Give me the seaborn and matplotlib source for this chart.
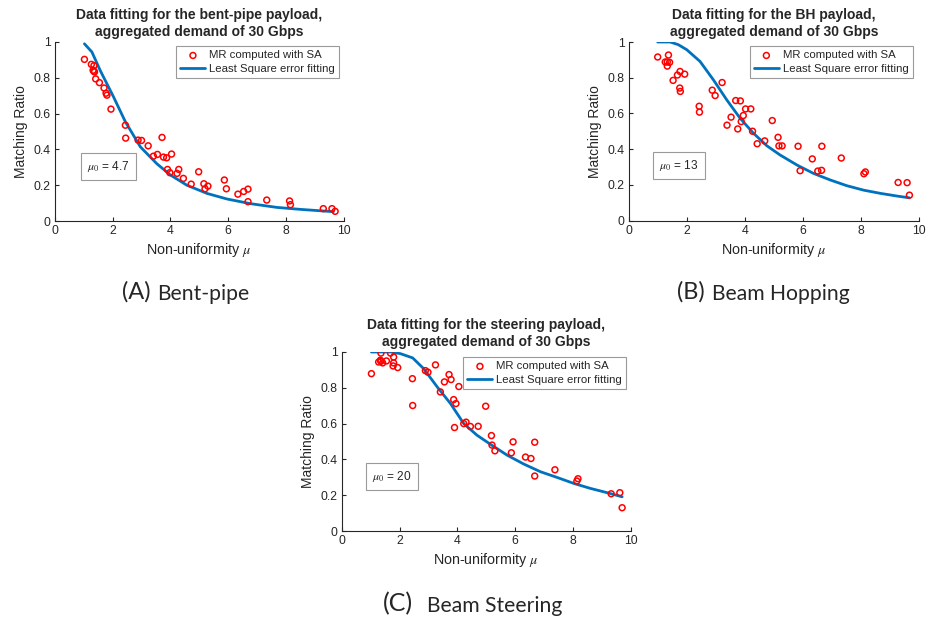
import matplotlib
matplotlib.use("Agg")
import matplotlib.pyplot as plt
import seaborn as sns
import pandas as pd

# ---------------- data ----------------
mu_a = [1.02, 1.26, 1.35, 1.32, 1.35, 1.37, 1.41, 1.54, 1.70, 1.77, 1.80, 1.94, 2.44, 2.45, 2.88,
        3.00, 3.23, 3.41, 3.55, 3.71, 3.76, 3.87, 3.90, 4.04, 3.98, 4.23, 4.29, 4.45, 4.72, 4.98,
        5.16, 5.20, 5.30, 5.87, 5.94, 6.34, 6.54, 6.69, 6.69, 7.34, 8.13, 8.16, 9.30, 9.60, 9.71]
mr_a = [0.903, 0.875, 0.868, 0.842, 0.836, 0.833, 0.794, 0.773, 0.743, 0.714, 0.703, 0.625, 0.535,
        0.463, 0.452, 0.450, 0.420, 0.362, 0.372, 0.467, 0.357, 0.353, 0.288, 0.374, 0.270, 0.266,
        0.288, 0.238, 0.206, 0.275, 0.208, 0.180, 0.195, 0.229, 0.180, 0.150, 0.165, 0.178, 0.108,
        0.117, 0.112, 0.091, 0.069, 0.069, 0.054]
fit_x_a = [1.02, 1.28, 1.57, 2.03, 2.44, 2.96, 3.53, 4.00, 4.57, 5.27, 5.96, 6.77, 7.69, 8.50, 9.65]
fit_y_a = [0.990, 0.944, 0.840, 0.693, 0.554, 0.414, 0.320, 0.257, 0.200, 0.154, 0.123, 0.097,
           0.076, 0.065, 0.052]

mu_b = [0.99, 1.25, 1.32, 1.36, 1.40, 1.32, 1.52, 1.67, 1.76, 1.75, 1.77, 1.92, 2.42, 2.43, 2.87,
        2.97, 3.21, 3.38, 3.52, 3.68, 3.75, 3.84, 3.87, 3.94, 4.02, 4.20, 4.26, 4.42, 4.68, 4.94,
        5.14, 5.17, 5.28, 5.83, 5.90, 6.32, 6.51, 6.64, 6.65, 7.32, 8.10, 8.15, 9.28, 9.59, 9.67]
mr_b = [0.916, 0.888, 0.888, 0.927, 0.886, 0.865, 0.785, 0.815, 0.835, 0.742, 0.723, 0.820, 0.640,
        0.607, 0.730, 0.700, 0.773, 0.534, 0.579, 0.672, 0.513, 0.670, 0.554, 0.588, 0.625, 0.625,
        0.500, 0.430, 0.446, 0.560, 0.466, 0.418, 0.418, 0.416, 0.279, 0.345, 0.277, 0.281, 0.416,
        0.350, 0.262, 0.272, 0.213, 0.212, 0.142]
fit_x_b = [0.99, 1.42, 1.70, 1.99, 2.45, 2.91, 3.37, 3.83, 4.29, 4.75, 5.21, 5.79, 6.36, 6.94,
           7.51, 8.09, 8.67, 9.24, 9.67]
fit_y_b = [1.000, 1.000, 0.985, 0.957, 0.891, 0.788, 0.676, 0.573, 0.489, 0.419, 0.367, 0.311,
           0.264, 0.227, 0.195, 0.170, 0.152, 0.137, 0.127]

mu_c = [1.02, 1.27, 1.33, 1.35, 1.35, 1.41, 1.54, 1.68, 1.79, 1.79, 1.77, 1.93, 2.44, 2.45, 2.89,
        2.98, 3.24, 3.41, 3.55, 3.71, 3.78, 3.87, 3.90, 3.95, 4.05, 4.22, 4.30, 4.45, 4.72, 4.98,
        5.18, 5.20, 5.30, 5.87, 5.93, 6.36, 6.55, 6.68, 6.68, 7.38, 8.14, 8.18, 9.33, 9.63, 9.71]
mr_c = [0.879, 0.944, 0.954, 0.994, 0.948, 0.939, 0.950, 0.994, 0.972, 0.939, 0.922, 0.913, 0.851,
        0.701, 0.896, 0.887, 0.928, 0.777, 0.833, 0.874, 0.846, 0.734, 0.578, 0.712, 0.807, 0.600,
        0.608, 0.584, 0.585, 0.697, 0.533, 0.480, 0.448, 0.437, 0.498, 0.413, 0.405, 0.496, 0.307,
        0.342, 0.279, 0.292, 0.208, 0.214, 0.130]
fit_x_c = [1.02, 1.68, 2.02, 2.45, 2.83, 3.30, 3.76, 4.22, 4.68, 5.14, 5.72, 6.30, 6.88, 7.46,
           8.03, 8.61, 9.19, 9.71]
fit_y_c = [1.000, 1.000, 0.991, 0.967, 0.907, 0.805, 0.712, 0.600, 0.535, 0.485, 0.424, 0.374,
           0.331, 0.299, 0.266, 0.238, 0.214, 0.191]

titles = ["Data fitting for the bent-pipe payload,\naggregated demand of 30 Gbps",
          "Data fitting for the BH payload,\naggregated demand of 30 Gbps",
          "Data fitting for the steering payload,\naggregated demand of 30 Gbps"]
mu0_labels = ["4.7", "13", "20"]
cap_letters = ["(A)", "(B)", "(C)"]
cap_names = ["Bent-pipe", "Beam Hopping", "Beam Steering"]
x_ticks = [0, 2, 4, 6, 8, 10]
y_ticks = [0, 0.2, 0.4, 0.6, 0.8, 1]
y_ticklabels = ["0", "0.2", "0.4", "0.6", "0.8", "1"]
legend_labels = ["MR computed with SA", "Least Square error fitting"]

# ---------------- style ----------------
sns.set_style("ticks")
plt.rcParams["font.family"] = ["Liberation Sans", "DejaVu Sans"]
plt.rcParams["mathtext.fontset"] = "stix"

fig = plt.figure(figsize=(9.36, 6.2), dpi=100)

positions = [(55/936, 1-221/620, 288.5/936, 179/620),
             (629/936, 1-220.5/620, 290/936, 178.5/620),
             (342/936, 1-531/620, 288.5/936, 179/620)]
legend_anchor = [(0.985, 0.975), (0.978, 0.975), (0.985, 0.97)]
mu0_pos = [(0.112, 0.307), (0.104, 0.307), (0.105, 0.307)]
cap_letter_x = [122/936, 677/936, 383/936]
cap_name_x = [157/936, 712/936, 427/936]
cap_y = [1-292/620, 1-292/620, 1-604/620]
cap_letter_size = [17, 17, 18]

datasets = [(mu_a, mr_a, fit_x_a, fit_y_a), (mu_b, mr_b, fit_x_b, fit_y_b),
            (mu_c, mr_c, fit_x_c, fit_y_c)]

axis_col = "#262626"
for i, (mx, my, fx, fy) in enumerate(datasets):
    ax = fig.add_axes(positions[i])
    dfp = pd.DataFrame({"mu": mx, "mr": my})
    dfl = pd.DataFrame({"mu": fx, "mr": fy})
    sns.scatterplot(data=dfp, x="mu", y="mr", ax=ax, marker="o", s=18,
                    facecolor="none", edgecolor="#ff0000", linewidth=1.1,
                    label=legend_labels[0], zorder=3)
    sns.lineplot(data=dfl, x="mu", y="mr", ax=ax, color="#0072BD", linewidth=2.0,
                 label=legend_labels[1], zorder=2, sort=False)
    ax.set_xlim(0, 10)
    ax.set_ylim(0, 1)
    ax.set_xticks(x_ticks)
    ax.set_yticks(y_ticks)
    ax.set_yticklabels(y_ticklabels)
    ax.tick_params(direction="in", length=3, width=0.8, labelsize=8.8, colors=axis_col,
                   pad=3)
    for s in ["left", "bottom"]:
        ax.spines[s].set_linewidth(0.8)
        ax.spines[s].set_color(axis_col)
    sns.despine(ax=ax)
    ax.set_title(titles[i], fontsize=10, fontweight="bold", pad=4, linespacing=1.3)
    ax.set_xlabel("Non-uniformity $\\mu$", fontsize=10.3, color=axis_col, labelpad=3)
    ax.set_ylabel("Matching Ratio", fontsize=10, color=axis_col, labelpad=4)
    leg = ax.legend(loc="upper right", bbox_to_anchor=legend_anchor[i], fontsize=8.2,
                    frameon=True, fancybox=False, edgecolor="#9a9a9a", framealpha=1,
                    handlelength=2.2, handletextpad=0.35, borderpad=0.35,
                    labelspacing=0.3, borderaxespad=0)
    leg.get_frame().set_linewidth(0.8)
    ax.text(mu0_pos[i][0], mu0_pos[i][1], "$\\mu_0$ = " + mu0_labels[i],
            transform=ax.transAxes, fontsize=8.6, va="center", ha="left",
            bbox=dict(boxstyle="square,pad=0.5", facecolor="white",
                      edgecolor="#9a9a9a", linewidth=0.8))
    # caption
    fig.text(cap_letter_x[i], cap_y[i], cap_letters[i], fontsize=cap_letter_size[i],
             family="Lato", ha="left", va="center")
    fig.text(cap_name_x[i], cap_y[i] - 0.003, cap_names[i], fontsize=15.2, family="Lato",
             ha="left", va="center")

fig.savefig("out.png", dpi=100)
